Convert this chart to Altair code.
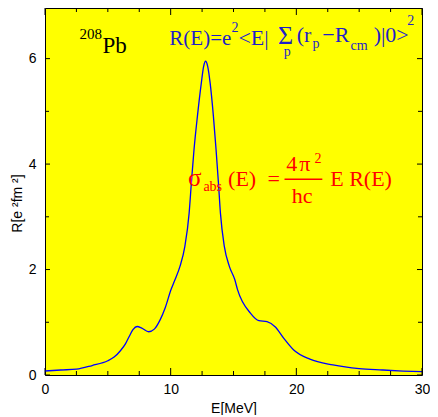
import altair as alt
import pandas as pd

# ---- data ----
energy = [0, 1.25, 2.5, 3.75, 5.0, 5.5, 6.0, 6.4, 6.7, 7.0, 7.33, 7.7, 8.25, 8.7,
          9.17, 9.56, 10.03, 10.35, 10.74, 11.13, 11.47, 11.65, 11.86, 12.13,
          12.44, 12.62, 12.78, 12.95, 13.14, 13.4, 13.61, 13.8, 13.96, 14.27,
          14.67, 15.1, 15.32, 16.36, 17.02, 17.67, 18.33, 18.99, 19.77, 21.08,
          22.91, 25.0, 26.84, 28.5, 30.0]
strength = [0.076, 0.095, 0.11, 0.18, 0.27, 0.34, 0.46, 0.59, 0.73, 0.86, 0.92,
            0.89, 0.82, 0.87, 1.05, 1.27, 1.62, 1.81, 2.06, 2.44, 3.07, 3.65,
            4.28, 4.91, 5.54, 5.85, 5.95, 5.85, 5.54, 4.91, 4.28, 3.65, 3.07,
            2.44, 2.06, 1.81, 1.62, 1.17, 1.03, 1.01, 0.91, 0.70, 0.48, 0.30,
            0.19, 0.12, 0.095, 0.075, 0.063]

x_labels = [0, 10, 20, 30]
y_labels = [0, 2, 4, 6]
x_major_ticks = [0, 10, 20, 30]
x_minor_ticks = [2.5, 5, 7.5, 12.5, 15, 17.5, 22.5, 25, 27.5]
y_major_ticks = [0, 2, 4, 6]
y_minor_ticks = [1, 3, 5]

W, H = 377, 367
SANS = "Liberation Sans"
SERIF = "Liberation Serif"
BLUE = "#1e1ec8"
RED = "#ff0000"

xs = alt.Scale(domain=[0, 30], nice=False, zero=False)
ys = alt.Scale(domain=[0, 6.96], nice=False, zero=False)

x_axis = alt.Axis(values=x_labels, format="d", ticks=False, domain=False, grid=False,
                  labelFont=SANS, labelFontSize=14, labelColor="black", labelPadding=7,
                  labelFlush=False, labelOverlap=False,
                  title="E[MeV]", titleFont=SANS, titleFontSize=14,
                  titleFontWeight="normal", titleColor="black", titlePadding=5)
y_axis = alt.Axis(values=y_labels, format="d", ticks=False, domain=False, grid=False,
                  labelFont=SANS, labelFontSize=14, labelColor="black", labelPadding=9,
                  labelFlush=False, labelOverlap=False,
                  title="R[e ²fm ²]", titleFont=SANS, titleFontSize=14,
                  titleFontWeight="normal", titleColor="black",
                  titleAngle=270, titleAlign="center", titleBaseline="middle",
                  titleX=-28, titleY=195)

X = lambda f: alt.X(f"{f}:Q", scale=xs, axis=x_axis)
Y = lambda f: alt.Y(f"{f}:Q", scale=ys, axis=y_axis)

df = pd.DataFrame({"E": energy, "R": strength})

line = alt.Chart(df).mark_line(color="#0000ff", strokeWidth=1.3,
                               interpolate="monotone").encode(x=X("E"), y=Y("R"))

layers = [line]


def xticks(vals, length):
    d = pd.DataFrame({"E": vals})
    bottom = alt.Chart(d).mark_rule(color="black", strokeWidth=1).encode(
        x=X("E"), y=alt.value(H), y2=alt.value(H - length))
    top = alt.Chart(d).mark_rule(color="black", strokeWidth=1).encode(
        x=X("E"), y=alt.value(0), y2=alt.value(length))
    return [bottom, top]


def yticks(vals, length):
    d = pd.DataFrame({"R": vals})
    left = alt.Chart(d).mark_rule(color="black", strokeWidth=1).encode(
        y=Y("R"), x=alt.value(0), x2=alt.value(length))
    right = alt.Chart(d).mark_rule(color="black", strokeWidth=1).encode(
        y=Y("R"), x=alt.value(W), x2=alt.value(W - length))
    return [left, right]


layers += xticks(x_major_ticks, 7) + xticks(x_minor_ticks, 4)
layers += yticks(y_major_ticks, 5) + yticks(y_minor_ticks, 4)

one = alt.InlineData(values=[{}])

# reference frame: plot box spans x 45..427, y 6..375
KX = W / 382.0
KY = H / 369.0


def cx(px):
    return (px - 45) * KX


def cy(py):
    return (py - 6) * KY


def txt(s, px, py, size, color):
    return alt.Chart(one).mark_text(text=s, font=SERIF, fontSize=size, color=color,
                                    align="left", baseline="alphabetic").encode(
        x=alt.value(cx(px)), y=alt.value(cy(py)))


# 208Pb
layers += [txt("208", 80, 36.7, 15, "black"), txt("Pb", 103.3, 51.7, 23, "black")]

# R(E) = e^2 <E| sum_p (r_p - R_cm) |0>^2
layers += [
    txt("R(E)=e", 171, 43.3, 21, BLUE),
    txt("2", 234, 30, 14, BLUE),
    txt("<E|", 241, 43.3, 22, BLUE),
    txt("Σ", 281, 42, 26, BLUE),
    txt("p", 287, 54, 14, BLUE),
    txt("(r", 300, 40.5, 22, BLUE),
    txt("p", 316, 46.7, 14, BLUE),
    txt("−R", 326, 40.5, 22, BLUE),
    txt("cm", 354.5, 48.3, 14, BLUE),
    txt(")|0>", 378, 40.5, 22, BLUE),
    txt("2", 412, 23.3, 14, BLUE),
]

# sigma_abs(E) = 4 pi^2 / hc  E R(E)
layers += [
    txt("σ", 190, 185, 25, RED),
    txt("abs", 205.5, 190, 14, RED),
    txt("(E)", 230.5, 185, 22, RED),
    txt("=", 270.5, 185, 22, RED),
    txt("4", 289.5, 170, 22, RED),
    txt("π", 302.5, 170, 22, RED),
    txt("2", 318, 162, 14, RED),
    txt("hc", 295, 201.7, 22, RED),
    txt("E R(E)", 334, 185, 22, RED),
    alt.Chart(one).mark_rule(color=RED, strokeWidth=1.5).encode(
        x=alt.value(cx(287.7)), x2=alt.value(cx(326)), y=alt.value(cy(178.3))),
]

chart = alt.layer(*layers).properties(
    width=W, height=H,
    autosize=alt.AutoSizeParams(type="none"),
    padding={"left": 37, "top": 0, "right": 8, "bottom": 40},
    background="white",
).configure_view(fill="#ffff00", stroke="black", strokeWidth=1)

chart.save("out.html", embed_options={"renderer": "svg", "actions": False})
